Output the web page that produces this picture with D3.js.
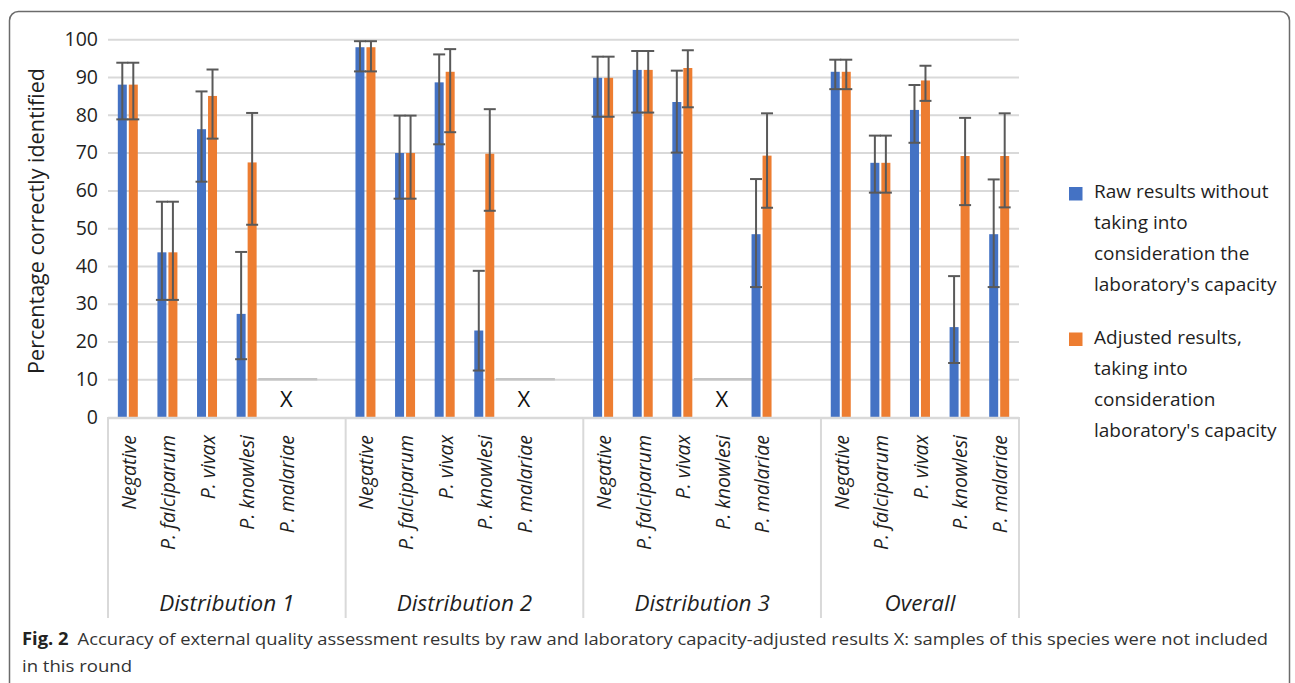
<!DOCTYPE html>
<html>
<head>
<meta charset="utf-8">
<script src="https://cdn.jsdelivr.net/npm/d3@7"></script>
<style>
  body { margin: 0; background: #fff; }
  svg { display: block; font-family: "Open Sans", "Noto Sans", sans-serif; }
</style>
</head>
<body>
<svg id="chart" width="1295" height="683"></svg>
<script>
// groups and species along the x axis
var groups = ["Distribution 1", "Distribution 2", "Distribution 3", "Overall"]
var species = ["Negative", "P. falciparum", "P. vivax", "P. knowlesi", "P. malariae"]
var seriesNames = [
  ["Raw results without", "taking into", "consideration the", "laboratory's capacity"],
  ["Adjusted results,", "taking into", "consideration", "laboratory's capacity"]
]
var yTicks = [0, 10, 20, 30, 40, 50, 60, 70, 80, 90, 100]

// null = species not included in that round (drawn as X)
var rawValues = [
  [88.0, 43.6, 76.2, 27.3, null],
  [97.9, 69.9, 88.6, 22.9, null],
  [89.8, 91.9, 83.4, null, 48.4],
  [91.4, 67.3, 81.3, 23.8, 48.4]
]
var rawLow = [
  [78.8, 31.0, 62.3, 15.3, null],
  [91.5, 57.8, 72.2, 12.3, null],
  [79.5, 80.6, 70.0, null, 34.4],
  [86.8, 59.4, 72.6, 14.3, 34.4]
]
var rawHigh = [
  [93.8, 57.0, 86.2, 43.7, null],
  [99.5, 79.8, 96.0, 38.7, null],
  [95.4, 96.9, 91.7, null, 63.0],
  [94.6, 74.5, 87.9, 37.3, 62.9]
]
var adjValues = [
  [88.0, 43.6, 85.0, 67.4, null],
  [97.9, 69.9, 91.4, 69.7, null],
  [89.8, 91.9, 92.4, null, 69.2],
  [91.4, 67.3, 89.1, 69.1, 69.1]
]
var adjLow = [
  [78.8, 31.0, 73.7, 50.9, null],
  [91.5, 57.8, 75.4, 54.6, null],
  [79.5, 80.6, 82.0, null, 55.4],
  [86.8, 59.4, 83.7, 56.1, 55.5]
]
var adjHigh = [
  [93.8, 57.0, 92.0, 80.5, null],
  [99.5, 79.8, 97.4, 81.5, null],
  [95.4, 96.9, 97.1, null, 80.4],
  [94.6, 74.5, 93.0, 79.2, 80.4]
]

var colors = ["#4472C4", "#ED7D31"]
var gridColor = "#d9d9d9"
var textColor = "#1f1f1f"

var svg = d3.select("#chart")

// outer figure frame
svg.append("rect")
  .attr("x", 9.5).attr("y", 11.5)
  .attr("width", 1280).attr("height", 700)
  .attr("rx", 9)
  .attr("fill", "none")
  .attr("stroke", "#6b6b6b")
  .attr("stroke-width", 1.5)

var plotLeft = 108, plotRight = 1019, plotTop = 39.3, plotBottom = 417

// band keys, with an empty slot after each distribution
var keys = []
groups.forEach(function(g, gi) {
  species.forEach(function(s) { keys.push(g + "|" + s) })
  if (gi < groups.length - 1) keys.push(g + "|blank")
})

var x = d3.scaleBand().domain(keys).range([plotLeft, plotRight])
var y = d3.scaleLinear().domain([0, 100]).range([plotBottom, plotTop])

// gridlines
svg.append("g")
  .attr("transform", "translate(" + plotLeft + ",0)")
  .call(d3.axisLeft(y).tickValues(yTicks.slice(1)).tickSize(-(plotRight - plotLeft)).tickFormat(""))
  .call(function(g) {
    g.select(".domain").remove()
    g.selectAll("line").attr("stroke", gridColor).attr("stroke-width", 2)
  })

// y tick labels
svg.append("g")
  .attr("transform", "translate(" + (plotLeft - 10) + ",0)")
  .call(d3.axisLeft(y).tickValues(yTicks).tickSize(0).tickPadding(0))
  .call(function(g) {
    g.select(".domain").remove()
    g.selectAll("text")
      .attr("font-size", 19.5)
      .attr("font-family", "Open Sans, sans-serif")
      .attr("fill", textColor)
  })

svg.append("text")
  .attr("transform", "translate(44,221) rotate(-90)")
  .attr("text-anchor", "middle")
  .attr("font-size", 21.5)
  .attr("fill", textColor)
  .text("Percentage correctly identified")

// bars, error bars, X marks
var items = []
groups.forEach(function(g, gi) {
  species.forEach(function(s, si) {
    items.push({
      key: g + "|" + s,
      series: [
        {v: rawValues[gi][si], lo: rawLow[gi][si], hi: rawHigh[gi][si]},
        {v: adjValues[gi][si], lo: adjLow[gi][si], hi: adjHigh[gi][si]}
      ]
    })
  })
})

var barW = 9
var offsets = [-10, 1]
var cat = svg.append("g").selectAll("g")
  .data(items)
  .enter()
  .append("g")
  .attr("transform", function(d) { return "translate(" + (x(d.key) + x.bandwidth() / 2) + ",0)" })

cat.each(function(d) {
  var g = d3.select(this)
  if (d.series[0].v === null) {
    g.append("line")
      .attr("x1", -28).attr("x2", 31)
      .attr("y1", y(10)).attr("y2", y(10))
      .attr("stroke", "#c4c4c4").attr("stroke-width", 2.5)
    g.append("text")
      .attr("x", 0).attr("y", 407)
      .attr("text-anchor", "middle")
      .attr("font-size", 22)
      .attr("fill", "#111")
      .text("X")
    return
  }
  d.series.forEach(function(s, i) {
    g.append("rect")
      .attr("x", offsets[i])
      .attr("y", y(s.v))
      .attr("width", barW)
      .attr("height", y(0) - y(s.v))
      .attr("fill", colors[i])
  })
  d.series.forEach(function(s, i) {
    var cx = offsets[i] + barW / 2
    var eb = g.append("g").attr("stroke", "#595959").attr("stroke-width", 2)
    eb.append("line").attr("x1", cx).attr("x2", cx).attr("y1", y(s.lo)).attr("y2", y(s.hi))
    eb.append("line").attr("x1", cx - 6).attr("x2", cx + 6).attr("y1", y(s.hi)).attr("y2", y(s.hi))
    eb.append("line").attr("x1", cx - 6).attr("x2", cx + 6).attr("y1", y(s.lo)).attr("y2", y(s.lo))
  })
})

// category axis line
svg.append("line")
  .attr("x1", plotLeft).attr("x2", plotRight)
  .attr("y1", plotBottom + 1).attr("y2", plotBottom + 1)
  .attr("stroke", gridColor).attr("stroke-width", 2.5)

// group separators
var groupEdges = groups.map(function(g) { return x(g + "|" + species[0]) })
groupEdges.push(plotRight)
svg.append("g").selectAll("line")
  .data(groupEdges)
  .enter()
  .append("line")
  .attr("x1", function(d) { return d }).attr("x2", function(d) { return d })
  .attr("y1", plotBottom).attr("y2", 618)
  .attr("stroke", gridColor).attr("stroke-width", 2)

// species labels
svg.append("g").selectAll("text")
  .data(items)
  .enter()
  .append("text")
  .attr("transform", function(d) {
    return "translate(" + (x(d.key) + x.bandwidth() / 2 + 1) + ",435) rotate(-90)"
  })
  .attr("dy", "0.35em")
  .attr("text-anchor", "end")
  .attr("font-size", 19.5)
  .attr("font-style", "italic")
  .attr("fill", textColor)
  .text(function(d) { return d.key.split("|")[1] })

// group labels
svg.append("g").selectAll("text")
  .data(groups)
  .enter()
  .append("text")
  .attr("x", function(g, i) { return (groupEdges[i] + groupEdges[i + 1]) / 2 })
  .attr("y", 611)
  .attr("text-anchor", "middle")
  .attr("font-size", 22.5)
  .attr("font-style", "italic")
  .attr("fill", textColor)
  .text(function(g) { return g })

// legend
var legend = svg.append("g").selectAll("g")
  .data(seriesNames)
  .enter()
  .append("g")
  .attr("transform", function(d, i) { return "translate(1069," + (187 + i * 145.5) + ")" })
legend.append("rect")
  .attr("width", 13.5).attr("height", 13.5)
  .attr("fill", function(d, i) { return colors[i] })
legend.append("text")
  .attr("font-size", 19)
  .attr("fill", textColor)
  .selectAll("tspan")
  .data(function(d) { return d })
  .enter()
  .append("tspan")
  .attr("x", 25)
  .attr("y", function(d, i) { return 11 + i * 31 })
  .text(function(d) { return d })

// caption
var cap = svg.append("text")
  .attr("x", 22).attr("y", 645)
  .attr("font-size", 17)
  .attr("fill", "#333")
  .attr("textLength", 1246)
  .attr("lengthAdjust", "spacingAndGlyphs")
cap.append("tspan").attr("font-weight", "bold").attr("fill", "#222").text("Fig. 2")
cap.append("tspan").text("\u2002Accuracy of external quality assessment results by raw and laboratory capacity-adjusted results X: samples of this species were not included")
svg.append("text")
  .attr("x", 22).attr("y", 672)
  .attr("font-size", 17)
  .attr("fill", "#333")
  .attr("textLength", 110)
  .attr("lengthAdjust", "spacingAndGlyphs")
  .text("in this round")
</script>
</body>
</html>
